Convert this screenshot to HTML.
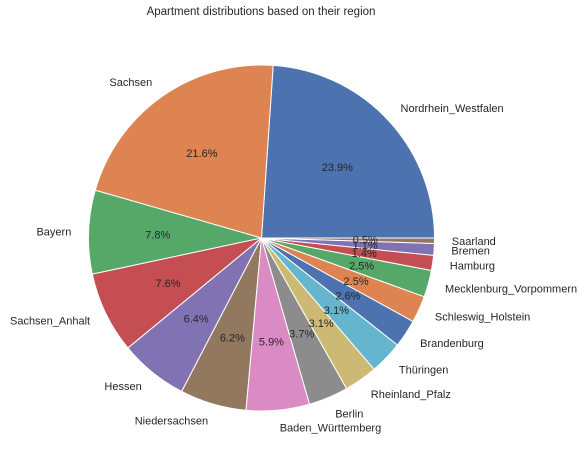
<!DOCTYPE html>
<html><head><meta charset="utf-8"><style>
html,body{margin:0;padding:0;background:#fff;}
svg{display:block;font-family:"Liberation Sans","DejaVu Sans",sans-serif;}
</style></head><body>
<svg id="chart" width="584" height="463" viewBox="0 0 584 463">
<text x="261" y="15" text-anchor="middle" font-size="11.5" fill="#262626">Apartment distributions based on their region</text>
<g id="slices"></g>
<g id="labels"></g>
</svg>
<script>
const categories = ["Nordrhein_Westfalen","Sachsen","Bayern","Sachsen_Anhalt","Hessen","Niedersachsen","Baden_Württemberg","Berlin","Rheinland_Pfalz","Thüringen","Brandenburg","Schleswig_Holstein","Mecklenburg_Vorpommern","Hamburg","Bremen","Saarland"];
const values = [23.9,21.6,7.8,7.6,6.4,6.2,5.9,3.7,3.1,3.1,2.6,2.5,2.5,1.4,1.1,0.5];
const palette = ["#4C72B0","#DD8452","#55A868","#C44E52","#8172B3","#937860","#DA8BC3","#8C8C8C","#CCB974","#64B5CD"];
const cx = 261.5, cy = 238, r = 173;
const NS = "http://www.w3.org/2000/svg";
const gS = document.getElementById("slices"), gL = document.getElementById("labels");
const total = values.reduce((a,b)=>a+b,0);
function pt(a, rr){ return [cx + rr*Math.cos(a), cy - rr*Math.sin(a)]; }
let start = 0;
values.forEach((v,i)=>{
  const sweep = v/total*2*Math.PI, end = start + sweep;
  const p0 = pt(start,r), p1 = pt(end,r);
  const path = document.createElementNS(NS,"path");
  path.setAttribute("d",`M${cx},${cy} L${p0[0]},${p0[1]} A${r},${r} 0 ${sweep>Math.PI?1:0} 0 ${p1[0]},${p1[1]} Z`);
  path.setAttribute("fill",palette[i%palette.length]);
  path.setAttribute("stroke","#fff");
  path.setAttribute("stroke-width","1");
  
  
  gS.appendChild(path);
  const mid = start + sweep/2;
  const lp = pt(mid, r*1.1);
  const t = document.createElementNS(NS,"text");
  t.setAttribute("x",lp[0]); t.setAttribute("y",lp[1]+4);
  t.setAttribute("text-anchor", Math.cos(mid)>=0 ? "start" : "end");
  t.setAttribute("font-size","11"); t.setAttribute("fill","#262626");
  t.textContent = categories[i];
  
  
  gL.appendChild(t);
  const pp = pt(mid, r*0.6);
  const t2 = document.createElementNS(NS,"text");
  t2.setAttribute("x",pp[0]); t2.setAttribute("y",pp[1]+4);
  t2.setAttribute("text-anchor","middle");
  t2.setAttribute("font-size","11"); t2.setAttribute("fill","#262626");
  t2.textContent = v.toFixed(1)+"%";
  
  
  gL.appendChild(t2);
  start = end;
});
</script>
</body></html>
